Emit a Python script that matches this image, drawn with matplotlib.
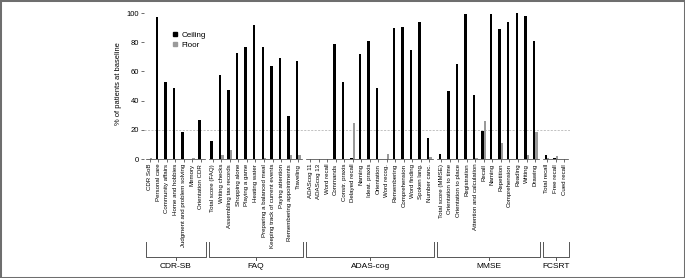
import matplotlib
matplotlib.use("Agg")
import matplotlib.pyplot as plt
from matplotlib.lines import Line2D
from matplotlib.patches import Rectangle
import matplotlib.transforms as mtransforms

plt.rcParams['font.family'] = ['Liberation Sans', 'DejaVu Sans']

groups = ["CDR-SB", "FAQ", "ADAS-cog", "MMSE", "FCSRT"]

cdr_labels = ["CDR SoB", "Personal care", "Community affairs", "Home and hobbies",
              "Judgment and problem solving", "Memory", "Orientation CDR"]
cdr_ceiling = [0, 97.3, 52.4, 48.5, 18.5, 0, 26.8]
cdr_floor = [0.5, 0, 0, 0, 0, 0.4, 0]

faq_labels = ["Total score (FAQ)", "Writing checks", "Assembling tax records", "Shopping alone",
              "Playing a game", "Heating water", "Preparing a balanced meal",
              "Keeping track of current events", "Paying attention",
              "Remembering appointments", "Traveling"]
faq_ceiling = [12.1, 57.6, 47.1, 72.9, 76.8, 91.9, 76.8, 64.0, 69.3, 29.3, 67.0]
faq_floor = [0, 2.7, 6.4, 0, 0, 0, 0.5, 0, 0, 3.0, 3.0]

adas_labels = ["ADAScog 11", "ADAScog 13", "Word recall", "Commands", "Constr. praxis",
               "Delayed recall", "Naming", "Ideat. praxis", "Orientation", "Word recog.",
               "Remembering", "Comprehension", "Word finding", "Spoken lang.", "Number canc."]
adas_ceiling = [0, 0, 0, 78.6, 52.8, 0.5, 71.8, 80.9, 48.9, 0, 89.6, 90.3, 75.0, 93.5, 14.2]
adas_floor = [0, 0, 0, 0, 0, 24.5, 0, 0, 0, 3.7, 0, 0, 0, 0, 1.4]

mmse_labels = ["Total score (MMSE)", "Orientation to time", "Orientation to place",
               "Registration", "Attention and calculation", "Recall", "Naming", "Repetition",
               "Comprehension", "Reading", "Writing", "Drawing"]
mmse_ceiling = [3.4, 46.9, 64.9, 99.2, 43.9, 19.2, 99.2, 89.1, 93.5, 99.9, 97.8, 80.7]
mmse_floor = [0, 0, 0, 0, 0.5, 26.3, 0, 11.2, 0, 0, 2.5, 18.7]

fcsrt_labels = ["Total recall", "Free recall", "Cued recall"]
fcsrt_ceiling = [2.7, 0.5, 0]
fcsrt_floor = [0.5, 1.8, 0]

group_labels = [cdr_labels, faq_labels, adas_labels, mmse_labels, fcsrt_labels]
group_ceiling = [cdr_ceiling, faq_ceiling, adas_ceiling, mmse_ceiling, fcsrt_ceiling]
group_floor = [cdr_floor, faq_floor, adas_floor, mmse_floor, fcsrt_floor]

yticks = [0, 20, 40, 60, 80, 100]

W, H = 685, 278
fig = plt.figure(figsize=(W / 100, H / 100), dpi=100)
ax_l, ax_r, ax_t, ax_b = 144, 570, 13, 159
ax = fig.add_axes([ax_l / W, 1 - ax_b / H, (ax_r - ax_l) / W, (ax_b - ax_t) / H])

# positions
positions, labels, ceil_all, floor_all, spans = [], [], [], [], []
x = 0.0
for gi, (lab, c, f) in enumerate(zip(group_labels, group_ceiling, group_floor)):
    if gi > 0:
        x += 0.4
    start = x
    for i in range(len(lab)):
        positions.append(x)
        x += 1
    spans.append((start, x - 1))
    labels += lab
    ceil_all += c
    floor_all += f

bw = 0.29
ceil_col = "#000000"
floor_col = "#9a9a9a"
ax.bar([p - bw / 2 for p in positions], ceil_all, width=bw, color=ceil_col, label="Ceiling")
ax.bar([p + bw / 2 for p in positions], floor_all, width=bw, color=floor_col, label="Floor")

ax.axhline(20, color="#aaaaaa", lw=0.5, ls=(0, (3, 2)), zorder=0)

ax.set_ylim(0, 100)
ax.set_xlim(-0.68, 49.3)
ax.set_yticks(yticks)
ax.tick_params(axis='y', labelsize=5.5, length=2, width=0.5, pad=1.5, color="#333333")
ax.set_xticks(positions)
ax.set_xticklabels(labels, rotation=90, fontsize=4.4)
ax.tick_params(axis='x', length=2, width=0.5, pad=1.5, color="#333333")
for s in ["top", "right", "left", "bottom"]:
    ax.spines[s].set_visible(False)

# group baselines
for (a, b) in spans:
    ax.plot([a - 0.45, b + 0.45], [0, 0], color="#333333", lw=0.5, clip_on=False)

# brackets
trans = mtransforms.blended_transform_factory(ax.transData, ax.transAxes)
y_top = (ax_b - 241.7) / (ax_b - ax_t)
y_bot = (ax_b - 257.3) / (ax_b - ax_t)
y_tick = (ax_b - 259.5) / (ax_b - ax_t)
y_lab = (ax_b - 267) / (ax_b - ax_t)
for name, (a, b) in zip(groups, spans):
    x0, x1 = a - 0.45, b + 0.6
    ax.plot([x0, x0, x1, x1], [y_top, y_bot, y_bot, y_top], transform=trans,
            color="#555555", lw=0.7, clip_on=False)
    xm = (x0 + x1) / 2
    ax.plot([xm, xm], [y_bot, y_tick], transform=trans, color="#555555", lw=0.7, clip_on=False)
    ax.text(xm, y_lab, name, transform=trans, ha="center", va="center", fontsize=6.0)

fig.text(118 / W, 1 - 84 / H, "% of patients at baseline", rotation=90,
         ha="center", va="center", fontsize=5.4)

handles = [Line2D([], [], marker="s", ls="none", color=ceil_col, markersize=3.0),
           Line2D([], [], marker="s", ls="none", color=floor_col, markersize=3.0)]
ax.legend(handles, ["Ceiling", "Floor"], loc="upper left",
          bbox_to_anchor=((172 - ax_l) / (ax_r - ax_l), (ax_b - 31) / (ax_b - ax_t)),
          frameon=False, fontsize=5.8, handlelength=0.8, handletextpad=0.4,
          labelspacing=0.3, borderpad=0, borderaxespad=0)

fig.patches.append(Rectangle((0, 0), 1, 1, transform=fig.transFigure, fill=False,
                             edgecolor="#6e6e6e", lw=2.2))

fig.savefig("out.png", dpi=100)
